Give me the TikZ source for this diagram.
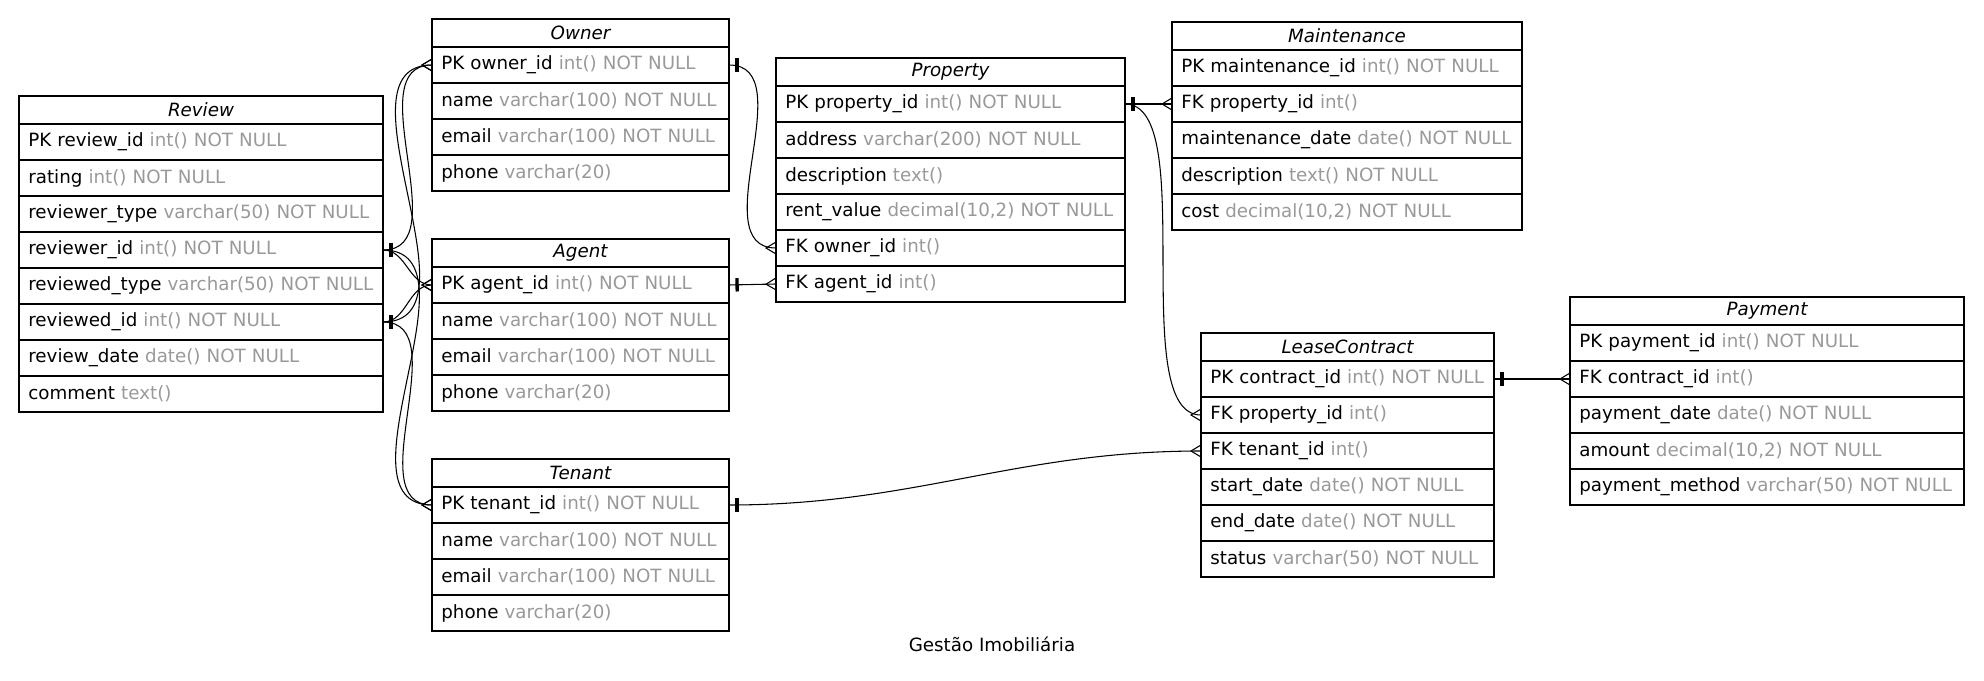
\documentclass[tikz,border=0pt]{standalone}
\usepackage{fontspec}
\setmainfont{DejaVu Sans}
\usetikzlibrary{positioning}

\definecolor{typegray}{HTML}{999999}
\newcommand{\dtype}[1]{\textcolor{typegray}{#1}}
\newcommand{\erfont}{\fontsize{13.7pt}{16pt}\selectfont}

% one end (bar) and many end (crow's foot)
\pgfdeclarearrow{
  name = erone,
  setup code = {
    \pgfarrowssettipend{0pt}
    \pgfarrowssetlineend{0pt}
    \pgfarrowssetbackend{-7.5pt}
    \pgfarrowshullpoint{0pt}{5pt}
    \pgfarrowshullpoint{0pt}{-5pt}
    \pgfarrowshullpoint{-7.5pt}{0pt}
  },
  drawing code = {
    \pgfpathrectangle{\pgfqpoint{-7.3pt}{-5pt}}{\pgfqpoint{2.5pt}{10pt}}
    \pgfusepathqfill
  }
}
\pgfdeclarearrow{
  name = ermany,
  setup code = {
    \pgfarrowssettipend{0pt}
    \pgfarrowssetlineend{0pt}
    \pgfarrowssetbackend{-7.5pt}
    \pgfarrowshullpoint{0pt}{4.5pt}
    \pgfarrowshullpoint{0pt}{-4.5pt}
    \pgfarrowshullpoint{-7.5pt}{0pt}
  },
  drawing code = {
    \pgfpathmoveto{\pgfqpoint{0pt}{4.5pt}}
    \pgfpathlineto{\pgfqpoint{-7.5pt}{0pt}}
    \pgfpathlineto{\pgfqpoint{0pt}{-4.5pt}}
    \pgfusepathqstroke
  }
}

\begin{document}
\begin{tikzpicture}[x=0.75pt, y=-0.75pt, every node/.style={font=\erfont},
  tabhead/.style={draw, line width=0.9pt, outer sep=0pt, inner xsep=0pt, inner ysep=0pt, text width=#1, align=center, minimum height=21pt, font=\erfont\itshape},
  row/.style={draw, line width=0.9pt, outer sep=0pt, inner xsep=0pt, inner ysep=0pt, text width=#1, align=left, minimum height=27pt, execute at begin node=\hspace*{7pt}},
  rel/.style={erone-ermany, line width=0.8pt}]

  \useasboundingbox (0,0) rectangle (1984,681);

  % Review
  \node[tabhead=273pt, anchor=north west] (R0) at (19,96) {Review};
  \node[row=273pt, below=0pt of R0] (R1) {PK review\_id \dtype{int() NOT NULL}};
  \node[row=273pt, below=0pt of R1] (R2) {rating \dtype{int() NOT NULL}};
  \node[row=273pt, below=0pt of R2] (R3) {reviewer\_type \dtype{varchar(50) NOT NULL}};
  \node[row=273pt, below=0pt of R3] (R4) {reviewer\_id \dtype{int() NOT NULL}};
  \node[row=273pt, below=0pt of R4] (R5) {reviewed\_type \dtype{varchar(50) NOT NULL}};
  \node[row=273pt, below=0pt of R5] (R6) {reviewed\_id \dtype{int() NOT NULL}};
  \node[row=273pt, below=0pt of R6] (R7) {review\_date \dtype{date() NOT NULL}};
  \node[row=273pt, below=0pt of R7] (R8) {comment \dtype{text()}};

  % Owner
  \node[tabhead=222.75pt, anchor=north west] (O0) at (432,19) {Owner};
  \node[row=222.75pt, below=0pt of O0] (O1) {PK owner\_id \dtype{int() NOT NULL}};
  \node[row=222.75pt, below=0pt of O1] (O2) {name \dtype{varchar(100) NOT NULL}};
  \node[row=222.75pt, below=0pt of O2] (O3) {email \dtype{varchar(100) NOT NULL}};
  \node[row=222.75pt, below=0pt of O3] (O4) {phone \dtype{varchar(20)}};

  % Agent
  \node[tabhead=222.75pt, anchor=north west] (A0) at (432,239) {Agent};
  \node[row=222.75pt, below=0pt of A0] (A1) {PK agent\_id \dtype{int() NOT NULL}};
  \node[row=222.75pt, below=0pt of A1] (A2) {name \dtype{varchar(100) NOT NULL}};
  \node[row=222.75pt, below=0pt of A2] (A3) {email \dtype{varchar(100) NOT NULL}};
  \node[row=222.75pt, below=0pt of A3] (A4) {phone \dtype{varchar(20)}};

  % Tenant
  \node[tabhead=222.75pt, anchor=north west] (T0) at (432,459) {Tenant};
  \node[row=222.75pt, below=0pt of T0] (T1) {PK tenant\_id \dtype{int() NOT NULL}};
  \node[row=222.75pt, below=0pt of T1] (T2) {name \dtype{varchar(100) NOT NULL}};
  \node[row=222.75pt, below=0pt of T2] (T3) {email \dtype{varchar(100) NOT NULL}};
  \node[row=222.75pt, below=0pt of T3] (T4) {phone \dtype{varchar(20)}};

  % Property
  \node[tabhead=261.75pt, anchor=north west] (P0) at (776,58) {Property};
  \node[row=261.75pt, below=0pt of P0] (P1) {PK property\_id \dtype{int() NOT NULL}};
  \node[row=261.75pt, below=0pt of P1] (P2) {address \dtype{varchar(200) NOT NULL}};
  \node[row=261.75pt, below=0pt of P2] (P3) {description \dtype{text()}};
  \node[row=261.75pt, below=0pt of P3] (P4) {rent\_value \dtype{decimal(10,2) NOT NULL}};
  \node[row=261.75pt, below=0pt of P4] (P5) {FK owner\_id \dtype{int()}};
  \node[row=261.75pt, below=0pt of P5] (P6) {FK agent\_id \dtype{int()}};

  % Maintenance
  \node[tabhead=262.5pt, anchor=north west] (M0) at (1172,22) {Maintenance};
  \node[row=262.5pt, below=0pt of M0] (M1) {PK maintenance\_id \dtype{int() NOT NULL}};
  \node[row=262.5pt, below=0pt of M1] (M2) {FK property\_id \dtype{int()}};
  \node[row=262.5pt, below=0pt of M2] (M3) {maintenance\_date \dtype{date() NOT NULL}};
  \node[row=262.5pt, below=0pt of M3] (M4) {description \dtype{text() NOT NULL}};
  \node[row=262.5pt, below=0pt of M4] (M5) {cost \dtype{decimal(10,2) NOT NULL}};

  % LeaseContract
  \node[tabhead=219.75pt, anchor=north west] (L0) at (1201,333) {LeaseContract};
  \node[row=219.75pt, below=0pt of L0] (L1) {PK contract\_id \dtype{int() NOT NULL}};
  \node[row=219.75pt, below=0pt of L1] (L2) {FK property\_id \dtype{int()}};
  \node[row=219.75pt, below=0pt of L2] (L3) {FK tenant\_id \dtype{int()}};
  \node[row=219.75pt, below=0pt of L3] (L4) {start\_date \dtype{date() NOT NULL}};
  \node[row=219.75pt, below=0pt of L4] (L5) {end\_date \dtype{date() NOT NULL}};
  \node[row=219.75pt, below=0pt of L5] (L6) {status \dtype{varchar(50) NOT NULL}};

  % Payment
  \node[tabhead=295.5pt, anchor=north west] (Y0) at (1570,297) {Payment};
  \node[row=295.5pt, below=0pt of Y0] (Y1) {PK payment\_id \dtype{int() NOT NULL}};
  \node[row=295.5pt, below=0pt of Y1] (Y2) {FK contract\_id \dtype{int()}};
  \node[row=295.5pt, below=0pt of Y2] (Y3) {payment\_date \dtype{date() NOT NULL}};
  \node[row=295.5pt, below=0pt of Y3] (Y4) {amount \dtype{decimal(10,2) NOT NULL}};
  \node[row=295.5pt, below=0pt of Y4] (Y5) {payment\_method \dtype{varchar(50) NOT NULL}};

  % Title
  \node[anchor=base] (title) at (992,651) {Gestão Imobiliária};

  % Review links
  \draw[rel] (R4.east) to[out=0, in=180] (O1.west);
  \draw[rel] (R4.east) to[out=0, in=180] (A1.west);
  \draw[rel] (R4.east) to[out=0, in=180] (T1.west);
  \draw[rel] (R6.east) to[out=0, in=180] (O1.west);
  \draw[rel] (R6.east) to[out=0, in=180] (A1.west);
  \draw[rel] (R6.east) to[out=0, in=180] (T1.west);

  % Other links
  \draw[rel] (O1.east) to[out=0, in=180] (P5.west);
  \draw[rel] (A1.east) -- (P6.west);
  \draw[rel] (P1.east) -- (M2.west);
  \draw[rel] (P1.east) to[out=0, in=180, looseness=0.6] (L2.west);
  \draw[rel] (T1.east) to[out=0, in=180] (L3.west);
  \draw[rel] (L1.east) -- (Y2.west);

\end{tikzpicture}
\end{document}
